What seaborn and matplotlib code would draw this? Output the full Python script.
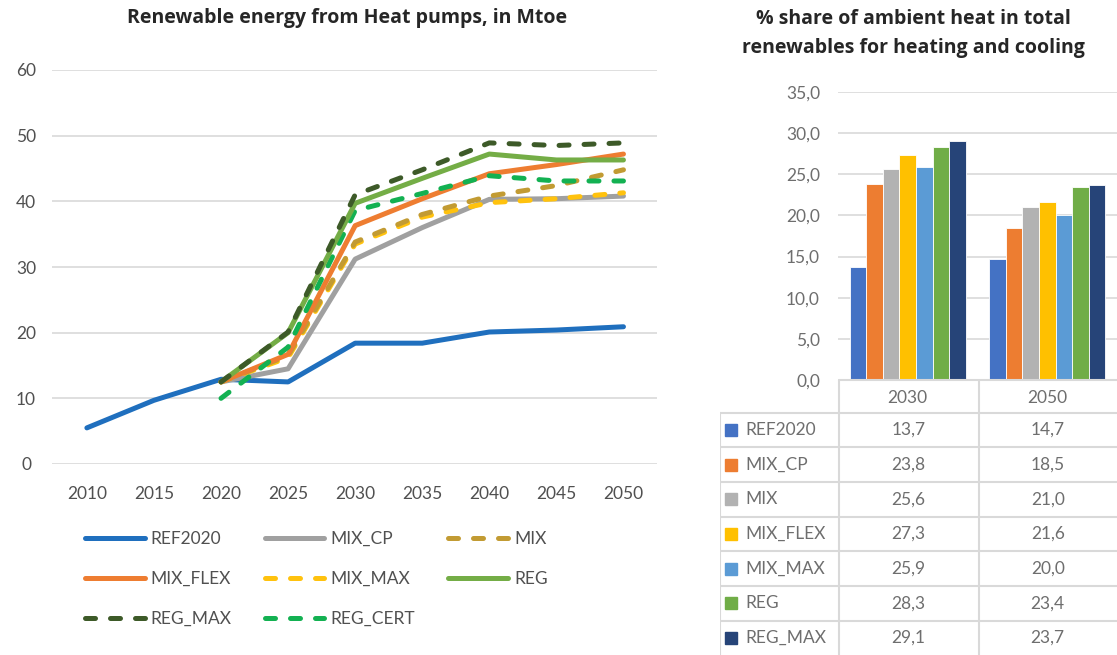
import matplotlib
matplotlib.use("Agg")
import matplotlib.pyplot as plt
import seaborn as sns
import pandas as pd
import numpy as np
from matplotlib.ticker import FuncFormatter

# ---------------- data ----------------
years_ref = [2010, 2015, 2020, 2025, 2030, 2035, 2040, 2045, 2050]
years = [2020, 2025, 2030, 2035, 2040, 2045, 2050]
ref2020 = [5.5, 9.7, 12.9, 12.5, 18.4, 18.4, 20.1, 20.4, 20.9]
mix_cp = [12.5, 14.5, 31.2, 36.0, 40.3, 40.4, 40.8]
mix = [12.5, 16.5, 33.8, 38.0, 40.8, 42.4, 44.8]
mix_flex = [12.5, 16.7, 36.3, 40.4, 44.2, 45.6, 47.2]
mix_max = [12.5, 16.2, 33.5, 37.6, 39.8, 40.4, 41.3]
reg = [12.5, 20.0, 39.7, 43.5, 47.2, 46.3, 46.3]
reg_max = [12.5, 20.1, 41.0, 44.8, 48.9, 48.5, 48.9]
reg_cert = [10.0, 17.8, 38.6, 41.2, 43.9, 43.1, 43.1]

bar_years = ["2030", "2050"]
bar_series = ["REF2020", "MIX_CP", "MIX", "MIX_FLEX", "MIX_MAX", "REG", "REG_MAX"]
share_2030 = [13.7, 23.8, 25.6, 27.3, 25.9, 28.3, 29.1]
share_2050 = [14.7, 18.5, 21.0, 21.6, 20.0, 23.4, 23.7]

line_title = "Renewable energy from Heat pumps, in Mtoe"
bar_title = "% share of ambient heat in total\nrenewables for heating and cooling"

# ---------------- style ----------------
sns.set_theme(style="white")
plt.rcParams['font.family'] = ['Lato', 'DejaVu Sans']
TXT = "#505050"
TXT2 = "#6E6E6E"
GRID = "#D9D9D9"
TITLE_FONT = ['Open Sans', 'DejaVu Sans']

fig = plt.figure(figsize=(11.17, 6.55), dpi=100)

# ---------------- line chart ----------------
ax = fig.add_axes([52/1117, (655-464)/655, 605/1117, 394/655])
line_specs = [
    ("REF2020", years_ref, ref2020, "#1F6FBE", "-"),
    ("MIX_CP", years, mix_cp, "#A0A0A0", "-"),
    ("MIX", years, mix, "#C29B33", "--"),
    ("MIX_FLEX", years, mix_flex, "#EE7D31", "-"),
    ("MIX_MAX", years, mix_max, "#FFC20E", "--"),
    ("REG", years, reg, "#74AD46", "-"),
    ("REG_MAX", years, reg_max, "#3D5A28", "--"),
    ("REG_CERT", years, reg_cert, "#13B152", "--"),
]
order_draw = ["REF2020", "MIX_CP", "MIX_MAX", "MIX", "MIX_FLEX", "REG_CERT", "REG", "REG_MAX"]
handles = {}
for name in order_draw:
    for (n, xs, ys, c, ls) in line_specs:
        if n == name:
            df = pd.DataFrame({"year": xs, "val": ys})
            sns.lineplot(data=df, x="year", y="val", ax=ax, color=c, linewidth=3.6,
                         linestyle=ls, solid_capstyle="round", dash_capstyle="round")
            ln = ax.lines[-1]
            if ls == "--":
                ln.set_dashes([2.0, 3.0])
            handles[name] = ln

ax.set_xlim(2007.4, 2052.5)
ax.set_ylim(0, 60)
ax.set_xticks(years_ref)
ax.set_yticks(range(0, 61, 10))
ax.yaxis.grid(True, color=GRID, linewidth=1.2)
ax.set_axisbelow(True)
for s in ax.spines.values():
    s.set_visible(False)
ax.set_xlabel("")
ax.set_ylabel("")
ax.tick_params(axis="both", length=0, labelsize=12.5, labelcolor=TXT)
ax.tick_params(axis="x", pad=16)
ax.tick_params(axis="y", pad=18.7)
for lab in ax.get_yticklabels():
    lab.set_horizontalalignment("center")
fig.text(347/1117, 1-18/655, line_title, ha="center", va="center",
         fontsize=14, fontweight="bold", color="#262626", family=TITLE_FONT)

# legend filled column-wise by matplotlib; reorder so rows read left to right
leg_rows = ["REF2020", "MIX_CP", "MIX", "MIX_FLEX", "MIX_MAX", "REG", "REG_MAX", "REG_CERT"]
ncol = 3
nrow = 3
col_major = []
for c in range(ncol):
    for r in range(nrow):
        idx = r * ncol + c
        if idx < len(leg_rows):
            col_major.append(leg_rows[idx])
leg = fig.legend([handles[n] for n in col_major], col_major, ncol=ncol,
                 loc="upper left", bbox_to_anchor=(69/1117, 1-515/655),
                 frameon=False, fontsize=12.5, handlelength=3.45, handletextpad=0.35,
                 columnspacing=1.9, labelspacing=1.4)
for t in leg.get_texts():
    t.set_color(TXT)

# ---------------- bar chart ----------------
bar_colors = ["#4472C4", "#ED7D31", "#B2B2B2", "#FFC000", "#5B9BD5", "#70AD47", "#264478"]
rows = []
for s, v30, v50 in zip(bar_series, share_2030, share_2050):
    rows.append({"year": bar_years[0], "series": s, "val": v30})
    rows.append({"year": bar_years[1], "series": s, "val": v50})
bdf = pd.DataFrame(rows)
bax = fig.add_axes([838/1117, (655-380)/655, 279/1117, 288/655])
sns.barplot(data=bdf, x="year", y="val", hue="series", order=bar_years,
            hue_order=bar_series, palette=bar_colors, width=0.83, ax=bax,
            saturation=1, edgecolor="white", linewidth=0.6, legend=False)
bax.set_xlim(-0.5, 1.5)
bax.set_ylim(0, 35)
bax.set_yticks(np.arange(0, 35.1, 5))
bax.yaxis.set_major_formatter(FuncFormatter(lambda v, p: f"{v:.1f}".replace(".", ",")))
bax.yaxis.grid(True, color=GRID, linewidth=1.2)
bax.set_axisbelow(True)
for s in bax.spines.values():
    s.set_visible(False)
bax.set_xlabel("")
bax.set_ylabel("")
bax.tick_params(axis="both", length=0, labelsize=12.5, labelcolor=TXT2)
bax.tick_params(axis="y", pad=13)
bax.tick_params(axis="x", pad=7)
fig.text(913/1117, 1-33/655, bar_title, ha="center", va="center",
         fontsize=14, fontweight="bold", color="#262626", linespacing=1.6,
         family=TITLE_FONT)

# ---------------- data table ----------------
tax = fig.add_axes([720/1117, 0, 397/1117, 275/655])
tax.set_xlim(720, 1117)
tax.set_ylim(655, 380)
tax.axis("off")
top = 412.5
rh = 34.7
c1, c2, c3 = 719.5, 838.5, 978.5
tax.plot([c2, 1117], [380, 380], color=GRID, lw=1.5, clip_on=False)
tax.plot([c2, c2], [380, 660], color=GRID, lw=1.5)
tax.plot([c3, c3], [380, 660], color=GRID, lw=1.5)
tax.plot([c1, c1], [top, 660], color=GRID, lw=1.5)
for i, (s, v30, v50, col) in enumerate(zip(bar_series, share_2030, share_2050, bar_colors)):
    y0 = top + i * rh
    tax.plot([c1, 1117], [y0, y0], color=GRID, lw=1.5)
    yc = y0 + rh / 2
    tax.add_patch(plt.Rectangle((725, yc - 6), 12, 12, color=col))
    tax.text(745, yc, s, ha="left", va="center", fontsize=12.5, color=TXT2)
    tax.text((c2 + c3) / 2, yc, f"{v30:.1f}".replace(".", ","), ha="center", va="center",
             fontsize=12.5, color=TXT2)
    tax.text((c3 + 1117) / 2, yc, f"{v50:.1f}".replace(".", ","), ha="center", va="center",
             fontsize=12.5, color=TXT2)

fig.savefig("out.png", dpi=100)
